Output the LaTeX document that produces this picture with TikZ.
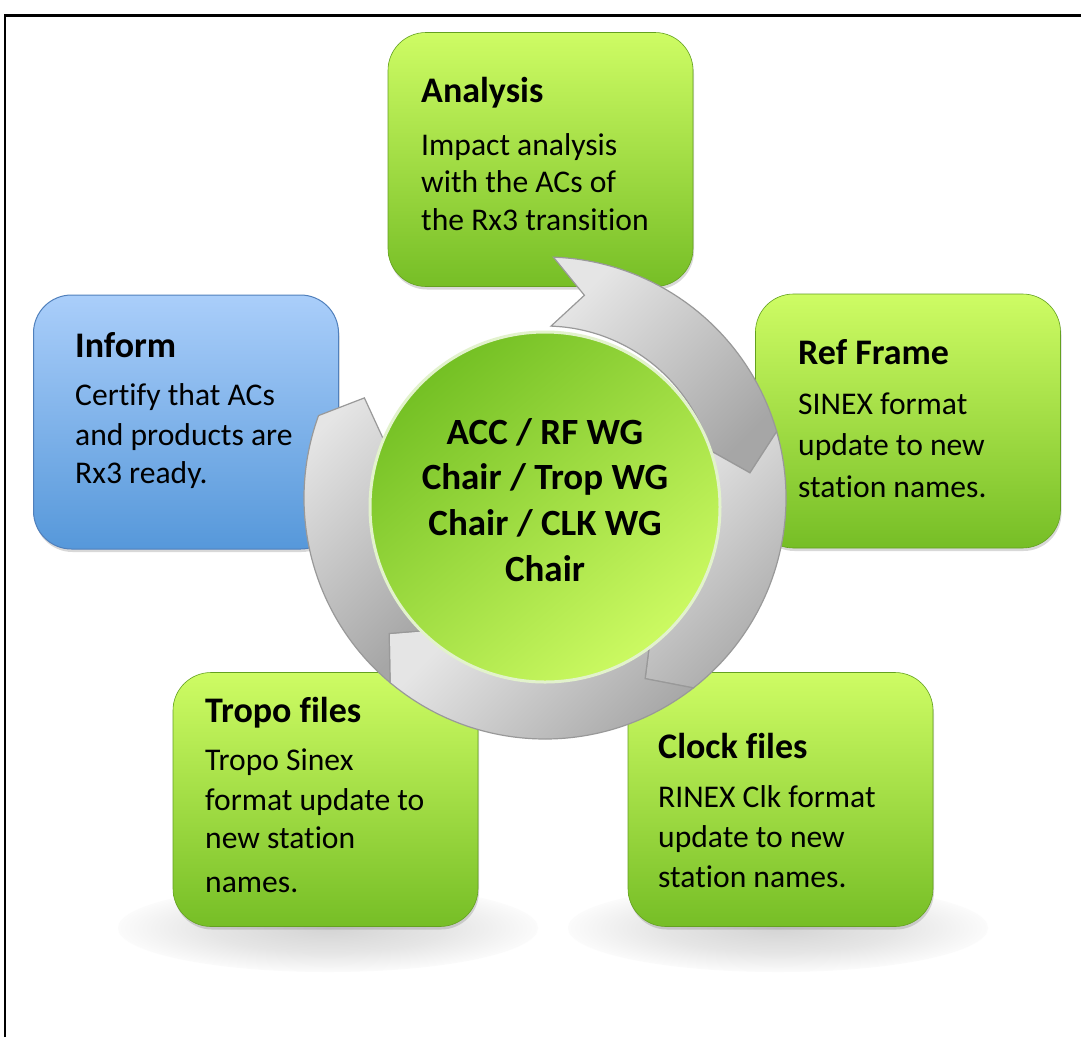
\documentclass[tikz,border=0pt]{standalone}
\usepackage{fontspec}
\setmainfont{Carlito}[Ligatures={NoCommon}]
\usetikzlibrary{shadows}
\definecolor{gtop}{RGB}{206,252,100}
\definecolor{gbot}{RGB}{118,190,38}
\definecolor{btop}{RGB}{170,206,250}
\definecolor{bbot}{RGB}{86,152,218}
\definecolor{bedge}{RGB}{80,128,188}
\definecolor{cdark}{RGB}{116,192,36}
\definecolor{cmid}{RGB}{132,202,44}
\definecolor{clight}{RGB}{204,250,98}
\definecolor{crim}{RGB}{226,242,204}
\pgfdeclareradialshading{reflsh}{\pgfpoint{0bp}{0bp}}{%
  color(0bp)=(black!17); color(14bp)=(black!10); color(27bp)=(white); color(50bp)=(white)}
\tikzset{
  card/.style={rounded corners=38pt, minimum width=305pt, minimum height=254pt,
    drop shadow={opacity=0.3, shadow xshift=1pt, shadow yshift=-3pt}},
  greencard/.style={card, top color=gtop, bottom color=gbot, draw=gbot!85!black, line width=0.6pt},
  bluecard/.style={card, top color=btop, bottom color=bbot, draw=bedge, line width=1pt},
  ttl/.style={anchor=base west, inner sep=0pt, font=\fontsize{36}{40}\selectfont\bfseries},
  txt/.style={anchor=base west, inner sep=0pt, font=\fontsize{31.6}{38}\selectfont},
  hubtxt/.style={anchor=base, inner sep=0pt, font=\fontsize{37}{45}\selectfont\bfseries},
  seg/.style={draw=gray!80, line width=1.2pt, top color=gray!20, bottom color=gray!70, shading angle=45},
  refl/.style={shading=reflsh},
}
\newcommand\ringseg[2]{%
  \path[seg] (#1:241) arc[start angle=#1, end angle=#2, radius=241]
    -- ({#2-9}:206.5) -- (#2:172) arc[start angle=#2, end angle=#1, radius=172]
    -- ({#1-9}:206.5) -- cycle;}
\begin{document}
\begin{tikzpicture}[x=1pt,y=-1pt]
\useasboundingbox (0,0) rectangle (1081,1037);
\fill[white] (0,0) rectangle (1081,1037);
\draw[line width=2.2pt] (5,1037) -- (5,15.5) -- (1081,15.5);

% reflections
\shade[refl] (328,928) ellipse [x radius=210, y radius=44];
\shade[refl] (778,928) ellipse [x radius=210, y radius=44];

% boxes
\node[greencard] (analysis) at (540.5,159.5) {};
\node[bluecard] (inform) at (186,422) {};
\node[greencard] (refframe) at (908,421) {};
\node[greencard] (tropo) at (325.5,799.5) {};
\node[greencard] (clock) at (780.5,799.5) {};

% ring of arrows
\begin{scope}[shift={(545,498)}, yscale=-1]
  \ringseg{88}{16}
  \ringseg{16}{-52}
  \ringseg{-52}{-130}
  \ringseg{-130}{-200}
\end{scope}

% hub
\node[circle, minimum size=350pt, inner sep=0pt, draw=crim, line width=3pt,
      top color=cdark, middle color=cmid, bottom color=clight, shading angle=40] (hub) at (545,507) {};
\node[hubtxt] (h1) at (545,444) {ACC / RF WG};
\node[hubtxt] (h2) at (545,489.5) {Chair / Trop WG};
\node[hubtxt] (h3) at (545,535) {Chair / CLK WG};
\node[hubtxt] (h4) at (545,581) {Chair};

% texts
\node[ttl] (at) at (421,102) {Analysis};
\node[txt] (a1) at (421,155) {Impact analysis};
\node[txt] (a2) at (421,192.5) {with the ACs of};
\node[txt] (a3) at (421,230) {the Rx3 transition};

\node[ttl] (it) at (75,357) {Inform};
\node[txt] (i1) at (75,405) {Certify that ACs};
\node[txt] (i2) at (75,445) {and products are};
\node[txt] (i3) at (75,483) {Rx3 ready.};

\node[ttl] (rt) at (798,364.5) {Ref Frame};
\node[txt] (r1) at (798,414) {SINEX format};
\node[txt] (r2) at (798,455) {update to new};
\node[txt] (r3) at (798,497) {station names.};

\node[ttl] (tt) at (205,722) {Tropo files};
\node[txt] (t1) at (205,770) {Tropo Sinex};
\node[txt] (t2) at (205,810) {format update to};
\node[txt] (t3) at (205,848) {new station};
\node[txt] (t4) at (205,892) {names.};

\node[ttl] (ct) at (658,758) {Clock files};
\node[txt] (c1) at (658,807) {RINEX Clk format};
\node[txt] (c2) at (658,847) {update to new};
\node[txt] (c3) at (658,887) {station names.};
\end{tikzpicture}
\end{document}
